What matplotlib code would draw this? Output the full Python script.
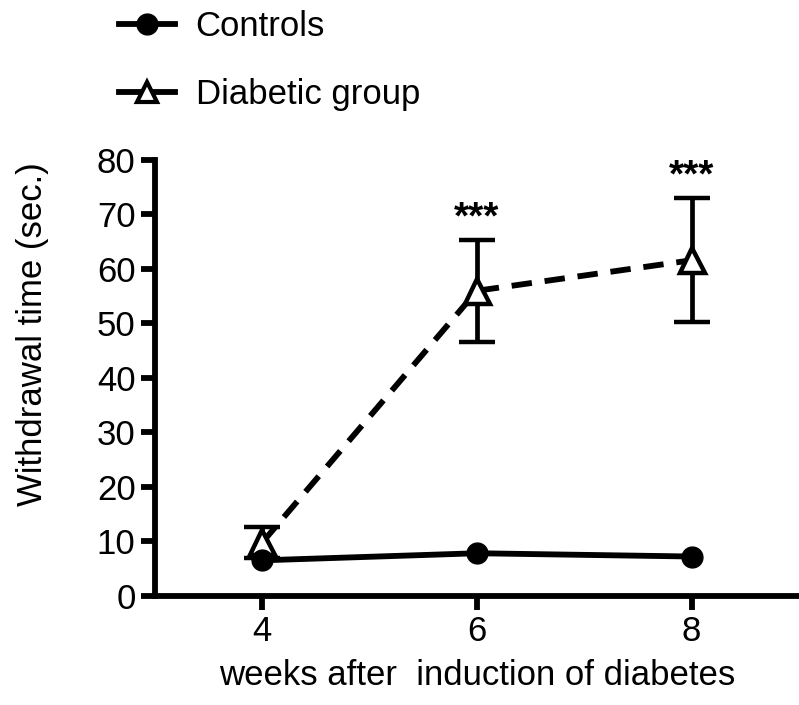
import numpy as np
import matplotlib.pyplot as plt
from matplotlib.lines import Line2D

plt.rcParams['font.family'] = ['Liberation Sans', 'DejaVu Sans']

weeks = [4, 6, 8]
controls = [6.5, 7.8, 7.2]
diabetic = [9.8, 56.0, 61.6]
diabetic_err = [2.9, 9.4, 11.4]
stars = ['', '***', '***']

fig = plt.figure(figsize=(7.99, 7.05), dpi=100)
ax = fig.add_axes([0.194, 0.155, 0.806, 0.618])

lw = 4.2
dash = (0, (3.5, 2.2))
ax.errorbar(weeks, diabetic, yerr=diabetic_err, color='black', lw=lw,
            ls=dash, marker='^', ms=18, mfc='white', mec='black',
            mew=3.2, ecolor='black', elinewidth=3.4, capsize=13, capthick=3.4,
            zorder=2)
ax.plot(weeks, controls, color='black', lw=lw, marker='o', ms=15, zorder=3)

for x, y, e, s in zip(weeks, diabetic, diabetic_err, stars):
    if s:
        ax.text(x, y + e + 0.6, s, ha='center', va='bottom', fontsize=28,
                fontweight='bold')

ax.set_xlim(3, 9)
ax.set_ylim(0, 80)
ax.set_xticks(weeks)
ax.set_yticks(np.arange(0, 81, 10))
for side in ['top', 'right']:
    ax.spines[side].set_visible(False)
for side in ['left', 'bottom']:
    ax.spines[side].set_linewidth(lw)
ax.tick_params(width=lw, length=10, labelsize=25, pad=4)
ax.set_ylabel('Withdrawal time (sec.)', fontsize=25)
ax.yaxis.set_label_coords(-0.165, 0.6)
ax.set_xlabel('weeks after  induction of diabetes', fontsize=25, labelpad=8)

handles = [
    Line2D([], [], color='black', lw=lw, marker='o', ms=15),
    Line2D([], [], color='black', lw=lw, marker='^', ms=15,
           mfc='white', mew=3),
]
fig.legend(handles, ['Controls', 'Diabetic group'], loc='upper left',
           bbox_to_anchor=(0.11, 1.03), frameon=False, fontsize=25,
           labelspacing=1.0, handlelength=1.6, handletextpad=0.6)

fig.savefig('out.png', dpi=100)
